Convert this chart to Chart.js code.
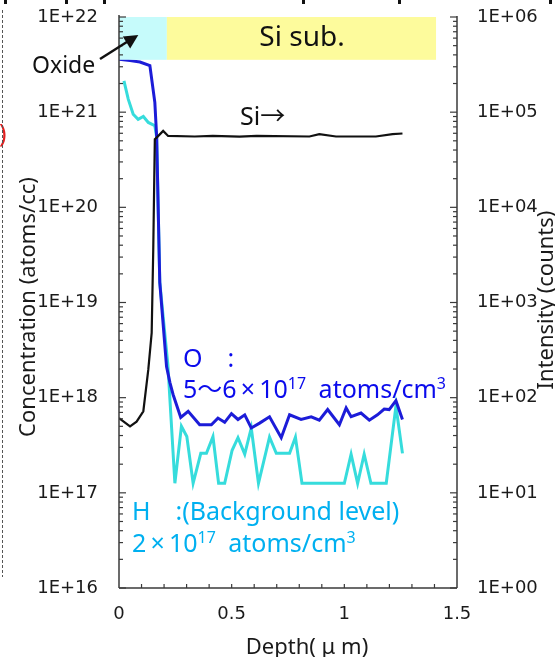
<!DOCTYPE html>
<html>
<head>
<meta charset="utf-8">
<script src="https://cdn.jsdelivr.net/npm/chart.js@4.4.1/dist/chart.umd.min.js"></script>
<style>
  html, body { margin: 0; padding: 0; background: #fff; }
  #profile { display: block; }
</style>
</head>
<body>
<canvas id="profile" width="555" height="657"></canvas>
<script>
// O profile, atoms/cc
const oDepth = [0, 0.049, 0.093, 0.137, 0.159, 0.167, 0.181, 0.211, 0.226, 0.240,
  0.274, 0.307, 0.358, 0.410, 0.439, 0.469, 0.499, 0.528, 0.558, 0.587,
  0.624, 0.668, 0.720, 0.757, 0.808, 0.853, 0.889, 0.926, 0.978, 1.008,
  1.030, 1.074, 1.111, 1.147, 1.177, 1.199, 1.229, 1.258];
const oConc = [3.6e21, 3.48e21, 3.36e21, 3.08e21, 1.27e21, 5.6e20, 1.63e19, 2.12e18, 1.44e18, 1.08e18,
  6.2e17, 7.2e17, 5.2e17, 5.2e17, 6.1e17, 5.5e17, 6.8e17, 5.9e17, 6.6e17, 4.8e17,
  5.4e17, 6.3e17, 3.8e17, 6.6e17, 5.9e17, 6.3e17, 5.8e17, 7.5e17, 5.2e17, 7.8e17,
  6.3e17, 6.9e17, 5.8e17, 6.6e17, 7.6e17, 7.5e17, 9.3e17, 5.9e17];

// H profile, atoms/cc
const hDepth = [0.022, 0.041, 0.063, 0.085, 0.108, 0.130, 0.159, 0.167, 0.181, 0.217,
  0.248, 0.277, 0.301, 0.329, 0.363, 0.388, 0.417, 0.442, 0.469, 0.502,
  0.528, 0.558, 0.587, 0.619, 0.668, 0.698, 0.757, 0.783, 0.812, 1.000,
  1.030, 1.059, 1.088, 1.118, 1.186, 1.229, 1.258];
const hConc = [2.13e21, 1.37e21, 9.5e20, 8.4e20, 9.0e20, 7.8e20, 7.2e20, 5.5e20, 1.63e19, 2.2e18,
  1.26e17, 5.0e17, 3.9e17, 1.26e17, 2.6e17, 2.6e17, 3.9e17, 1.26e17, 1.26e17, 2.8e17,
  3.8e17, 2.55e17, 4.8e17, 1.26e17, 3.85e17, 2.6e17, 2.6e17, 3.85e17, 1.26e17, 1.26e17,
  2.55e17, 1.26e17, 2.55e17, 1.26e17, 1.26e17, 8.15e17, 2.6e17];

// Si matrix signal, counts
const siDepth = [0, 0.049, 0.078, 0.108, 0.130, 0.145, 0.152, 0.159, 0.167, 0.196,
  0.218, 0.336, 0.416, 0.535, 0.611, 0.845, 0.889, 0.963, 1.140, 1.214, 1.258];
const siCounts = [61, 50, 56, 72, 197, 480, 3600, 52000, 54000, 63500,
  56300, 55500, 56300, 55300, 56300, 55500, 58700, 55500, 55500, 58700, 59700];

const depthTicks = [0, 0.5, 1, 1.5];
const depthLabels = ['0', '0.5', '1', '1.5'];
const concTicks = [1e16, 1e17, 1e18, 1e19, 1e20, 1e21, 1e22];
const concLabels = ['1E+16', '1E+17', '1E+18', '1E+19', '1E+20', '1E+21', '1E+22'];
const countTicks = [1, 1e1, 1e2, 1e3, 1e4, 1e5, 1e6];
const countLabels = ['1E+00', '1E+01', '1E+02', '1E+03', '1E+04', '1E+05', '1E+06'];

// oxide / substrate bands (depth ranges), bottom edge in atoms/cc
const oxideEnd = 0.2124;
const subEnd = 1.407;
const bandBottom = 3.55e21;

const ANN = "'Noto Sans', 'Noto Sans CJK JP', sans-serif";
const TICKF = "'DejaVu Sans', sans-serif";
const AXIS = '#3a3a3a';

function pts(xs, ys) {
    return xs.map((d, i) => ({ x: d, y: ys[i] }));
}

function rich(ctx, x, y, parts, color) {
    ctx.fillStyle = color;
    ctx.textAlign = 'left';
    ctx.textBaseline = 'alphabetic';
    parts.forEach(p => {
        ctx.font = p[1] + 'px ' + ANN;
        ctx.fillText(p[0], x, y - (p[2] || 0));
        x += ctx.measureText(p[0]).width;
    });
}

function vtext(ctx, text, cx, cy, size) {
    ctx.save();
    ctx.translate(cx, cy);
    ctx.rotate(-Math.PI / 2);
    ctx.font = size + 'px ' + ANN;
    ctx.textAlign = 'center';
    ctx.textBaseline = 'alphabetic';
    ctx.fillStyle = '#1a1a1a';
    ctx.fillText(text, 0, 0);
    ctx.restore();
}

function seg(ctx, x1, y1, x2, y2) {
    ctx.beginPath();
    ctx.moveTo(x1, y1);
    ctx.lineTo(x2, y2);
    ctx.stroke();
}

// fixed axis boxes so the plot area lands where the original has it
function fixWidth(w) {
    return s => { s.width = w; s.paddingTop = 0; s.paddingBottom = 0; };
}

const decor = {
    id: 'decor',
    beforeDraw(chart) {
        const ctx = chart.ctx;
        ctx.save();
        ctx.fillStyle = '#fff';
        ctx.fillRect(0, 0, chart.width, chart.height);
        ctx.restore();
    },
    afterDatasetsDraw(chart) {
        const { ctx, chartArea: a, scales: { x, y, y2 } } = chart;
        ctx.save();

        // bands
        const bTop = y.getPixelForValue(1e22);
        const bBot = y.getPixelForValue(bandBottom);
        const x0 = x.getPixelForValue(0);
        const x1 = x.getPixelForValue(oxideEnd);
        const x2 = x.getPixelForValue(subEnd);
        ctx.fillStyle = '#c6fbfb';
        ctx.fillRect(x0, bTop, x1 - x0, bBot - bTop);
        ctx.fillStyle = '#fdfb9c';
        ctx.fillRect(x1, bTop, x2 - x1, bBot - bTop);

        // axis lines
        ctx.strokeStyle = AXIS;
        ctx.lineWidth = 1.5;
        seg(ctx, a.left, a.top - 2, a.left, a.bottom);
        seg(ctx, a.left, a.bottom, a.right, a.bottom);
        seg(ctx, a.right, a.top - 1, a.right, a.bottom);

        // inward ticks
        ctx.lineWidth = 1.2;
        for (let e = 16; e <= 22; e++) {
            for (let m = 1; m < 10; m++) {
                const v = m * Math.pow(10, e);
                if (v > 1e22 * 1.0001) break;
                const py = y.getPixelForValue(v);
                seg(ctx, a.left, py, a.left + (m === 1 ? 7 : 4), py);
            }
        }
        for (let e = 0; e <= 6; e++) {
            for (let m = 1; m < 10; m++) {
                const v = m * Math.pow(10, e);
                if (v > 1e6 * 1.0001) break;
                const py = y2.getPixelForValue(v);
                seg(ctx, a.right, py, a.right - (m === 1 ? 7 : 4), py);
            }
        }
        for (let k = 1; k < 15; k++) {
            const px = x.getPixelForValue(k / 10);
            seg(ctx, px, a.bottom, px, a.bottom - 4);
        }
        ctx.restore();
    },
    afterDraw(chart) {
        const ctx = chart.ctx;
        ctx.save();

        // band labels and arrow
        ctx.fillStyle = '#111';
        ctx.textBaseline = 'alphabetic';
        ctx.textAlign = 'center';
        ctx.font = '28px ' + ANN;
        ctx.fillText('Si sub.', 302, 46);
        ctx.textAlign = 'left';
        ctx.font = '23px ' + ANN;
        ctx.fillText('Oxide', 32, 73);
        ctx.font = '25px ' + ANN;
        ctx.fillText('Si\u2192', 240, 125);

        ctx.strokeStyle = '#111';
        ctx.lineWidth = 2.5;
        seg(ctx, 100, 59, 130, 40);
        ctx.beginPath();
        ctx.moveTo(138.3, 35);
        ctx.lineTo(130.2, 48.4);
        ctx.lineTo(122.8, 36.6);
        ctx.closePath();
        ctx.fill();

        // species notes
        ctx.fillStyle = '#0b0bec';
        ctx.font = '25px ' + ANN;
        ctx.fillText('O\u3000:', 183, 367);
        rich(ctx, 183, 398, [['5\uff5e6\u2009\u00d7\u200910', 25], ['17', 16, 9], ['\u2002atoms/cm', 25], ['3', 16, 9]], '#0b0bec');
        ctx.fillStyle = '#00b0f0';
        ctx.font = '25px ' + ANN;
        ctx.fillText('H\u3000:(Background level)', 132, 520);
        rich(ctx, 132, 552, [['2\u2009\u00d7\u200910', 25], ['17', 16, 9], ['\u2002atoms/cm', 25], ['3', 16, 9]], '#00b0f0');

        // axis titles
        vtext(ctx, 'Concentration (atoms/cc)', 35, 307, 22);
        vtext(ctx, 'Intensity (counts)', 553, 300, 22);
        ctx.fillStyle = '#1a1a1a';
        ctx.textAlign = 'center';
        ctx.font = '22px ' + ANN;
        ctx.fillText('Depth( \u03bc m)', 307, 654);

        // cropped page leftovers
        ctx.fillStyle = '#e02020';
        ctx.textAlign = 'left';
        ctx.font = '25px ' + ANN;
        ctx.fillText(')', -1, 142);
        ctx.strokeStyle = '#555';
        ctx.lineWidth = 1;
        ctx.setLineDash([3, 2]);
        seg(ctx, 2.5, 10, 2.5, 577);
        ctx.setLineDash([]);
        ctx.fillStyle = '#111';
        [4, 65, 103, 302, 398, 549].forEach(px => ctx.fillRect(px, 0, 3, 4));
        ctx.restore();
    }
};

const tickFont = { family: TICKF, size: 18 };

new Chart(document.getElementById('profile'), {
    type: 'scatter',
    data: {
        datasets: [{
            label: 'Si',
            data: pts(siDepth, siCounts),
            yAxisID: 'y2',
            showLine: true,
            borderColor: '#111111',
            borderWidth: 2.2,
            pointRadius: 0
        }, {
            label: 'O',
            data: pts(oDepth, oConc),
            yAxisID: 'y',
            showLine: true,
            borderColor: '#1c1cd8',
            borderWidth: 3,
            pointRadius: 0
        }, {
            label: 'H',
            data: pts(hDepth, hConc),
            yAxisID: 'y',
            showLine: true,
            borderColor: '#36dcdc',
            borderWidth: 3,
            pointRadius: 0
        }]
    },
    options: {
        responsive: false,
        animation: false,
        devicePixelRatio: 1,
        layout: { padding: { top: 17 } },
        plugins: { legend: { display: false }, tooltip: { enabled: false } },
        scales: {
            x: {
                type: 'linear',
                min: 0,
                max: 1.5,
                afterBuildTicks: s => { s.ticks = depthTicks.map(v => ({ value: v })); },
                afterFit: s => { s.height = 69; s.paddingLeft = 0; s.paddingRight = 0; },
                ticks: {
                    callback: (v, i) => depthLabels[i],
                    font: tickFont,
                    color: '#1a1a1a',
                    padding: 16,
                    maxRotation: 0,
                    autoSkip: false
                },
                grid: { display: false, drawTicks: false },
                border: { display: false }
            },
            y: {
                type: 'logarithmic',
                position: 'left',
                min: 1e16,
                max: 1e22,
                afterBuildTicks: s => { s.ticks = concTicks.map(v => ({ value: v })); },
                afterFit: fixWidth(119),
                ticks: {
                    callback: (v, i) => concLabels[i],
                    font: tickFont,
                    color: '#1a1a1a',
                    padding: 21,
                    autoSkip: false
                },
                grid: { display: false, drawTicks: false },
                border: { display: false }
            },
            y2: {
                type: 'logarithmic',
                position: 'right',
                min: 1,
                max: 1e6,
                afterBuildTicks: s => { s.ticks = countTicks.map(v => ({ value: v })); },
                afterFit: fixWidth(98),
                ticks: {
                    callback: (v, i) => countLabels[i],
                    font: tickFont,
                    color: '#1a1a1a',
                    padding: 20,
                    autoSkip: false
                },
                grid: { display: false, drawTicks: false },
                border: { display: false }
            }
        }
    },
    plugins: [decor]
});
</script>
</body>
</html>
